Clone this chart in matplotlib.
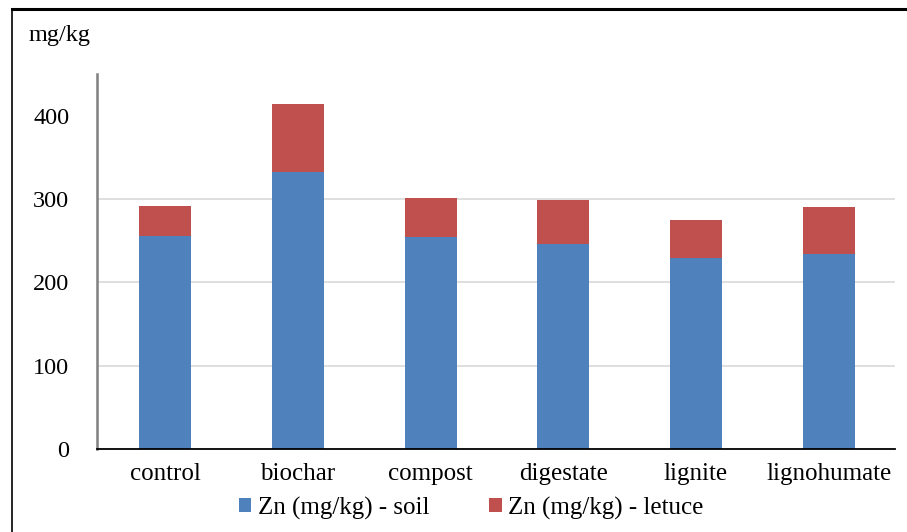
import matplotlib.pyplot as plt
from matplotlib.lines import Line2D
import numpy as np

categories = ["control", "biochar", "compost", "digestate", "lignite", "lignohumate"]
zn_soil = [256, 332, 255, 246, 229, 234]
zn_lettuce = [36, 82, 46, 53, 46, 56]

soil_label = "Zn (mg/kg) - soil"
lettuce_label = "Zn (mg/kg) - letuce"
y_ticks = [0, 100, 200, 300, 400]
grid_levels = [100, 200, 300]

plt.rcParams["font.family"] = ["Liberation Serif", "DejaVu Serif"]

W, H = 907, 532
fig = plt.figure(figsize=(W / 100, H / 100), dpi=100)
ax = fig.add_axes([97 / W, 1 - 449 / H, (895 - 97) / W, (449 - 74) / H])

x = np.arange(len(categories))
ax.bar(x, zn_soil, width=0.39, color="#4F81BD", label=soil_label, zorder=2)
ax.bar(x, zn_lettuce, width=0.39, bottom=zn_soil, color="#C0504D",
       label=lettuce_label, zorder=2)

for level in grid_levels:
    ax.axhline(level, color="#d9d9d9", linewidth=1.2, zorder=1)

ax.set_xlim(-0.515, len(categories) - 0.5)
ax.set_ylim(0, 450)
ax.set_yticks(y_ticks)
ax.set_xticks(x)
ax.set_xticklabels(categories)
ax.tick_params(axis="y", length=0, pad=20, labelsize=17.5)
ax.tick_params(axis="x", length=0, pad=10, labelsize=18)

for side in ("top", "right"):
    ax.spines[side].set_visible(False)
ax.spines["left"].set_color("#808080")
ax.spines["left"].set_linewidth(1.8)
ax.spines["bottom"].set_color("black")
ax.spines["bottom"].set_linewidth(1.3)

fig.text(60 / W, 1 - 36 / H, "mg/kg", ha="center", va="center", fontsize=17.5)

fig.legend(loc="center", bbox_to_anchor=(471 / W, 1 - 508 / H), ncol=2,
           frameon=False, fontsize=18, handlelength=0.5, handleheight=0.5,
           handletextpad=0.25, columnspacing=2.4)

# frame lines along the top and left edges
fig.add_artist(Line2D([11.5 / W, 1], [1 - 9 / H, 1 - 9 / H], color="black",
                      linewidth=2.2, transform=fig.transFigure))
fig.add_artist(Line2D([11.5 / W, 11.5 / W], [0, 1 - 9 / H], color="black",
                      linewidth=1.2, transform=fig.transFigure))

fig.savefig("out.png", dpi=100)
plt.close()
